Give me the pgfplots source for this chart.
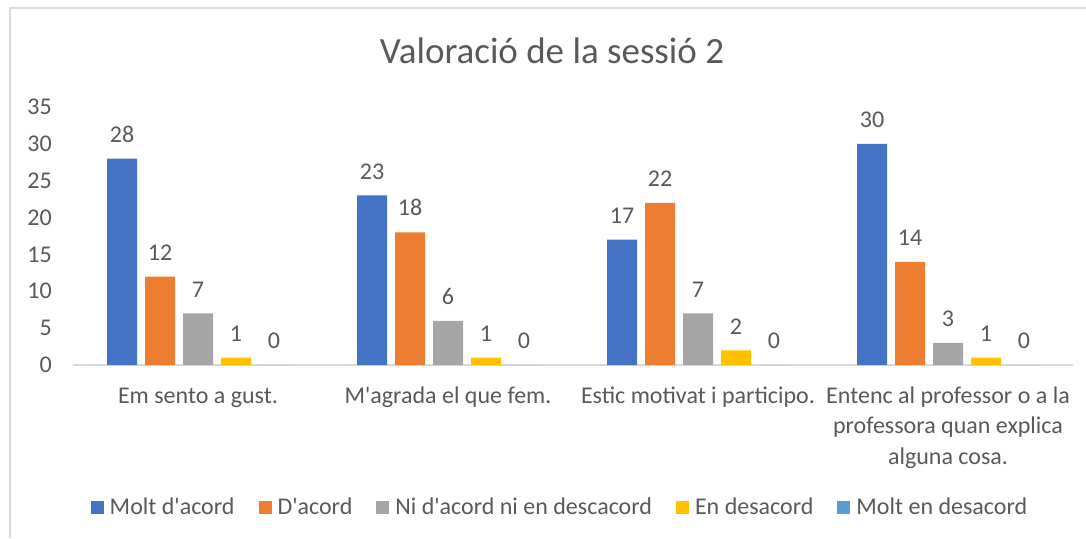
\documentclass[border=0pt]{standalone}
\usepackage{fontspec}
\setmainfont{Carlito}[Ligatures=TeXOff]
\usepackage{pgfplots}
\pgfplotsset{compat=1.18}
\definecolor{c1}{HTML}{4472C4}
\definecolor{c2}{HTML}{ED7D31}
\definecolor{c3}{HTML}{A5A5A5}
\definecolor{c4}{HTML}{FFC000}
\definecolor{c5}{HTML}{5B9BD5}
\definecolor{txt}{HTML}{595959}
\definecolor{gridc}{HTML}{D9D9D9}
\begin{document}
\begin{tikzpicture}[x=1pt,y=1pt]
\useasboundingbox (0,0) rectangle (1086,538);
\draw[gridc, line width=2pt] (10,0) -- (10,530) -- (1086,530);
\node[txt, font=\fontsize{37}{44}\selectfont] at (552,487) {Valoració de la sessió 2};
\begin{axis}[
  at={(73pt,173pt)}, anchor=south west, scale only axis,
  width=1000pt, height=258pt,
  ybar=8pt, bar width=30pt,
  xmin=-0.5, xmax=3.5, ymin=0, ymax=35,
  ytick={0,5,...,35},
  xtick={0,1,2,3},
  xticklabels={{\rule{0pt}{22pt}Em sento a gust.},{\rule{0pt}{22pt}M'agrada el que fem.},{\rule{0pt}{22pt}Estic motivat i participo.},{\rule{0pt}{22pt}Entenc al professor o a la\\professora quan explica\\alguna cosa.}},
  axis x line*=bottom, axis y line*=left,
  y axis line style={draw=none},
  x axis line style={gridc, line width=1.2pt, -},
  major tick length=0pt,
  tick label style={txt, font=\fontsize{24}{30}\selectfont},
  /pgf/number format/assume math mode=true,
  yticklabel style={inner sep=0pt, xshift=-21pt},
  xticklabel style={align=center, inner sep=0pt, anchor=north, yshift=-16pt, font=\fontsize{24}{30.5}\selectfont},
  nodes near coords,
  every node near coord/.append style={txt, font=\fontsize{24}{30}\selectfont, inner sep=0pt, yshift=16pt, /pgf/number format/assume math mode=true},
  legend style={at={(0.487,-0.55)}, anchor=center, draw=none, fill=none,
    legend columns=-1, font=\fontsize{24}{30}\selectfont, text=txt,
    /tikz/every odd column/.append style={column sep=4pt},
    /tikz/every even column/.append style={column sep=22pt}},
  legend image code/.code={\fill (0pt,-7pt) rectangle (13pt,6pt);},
]
\addplot[fill=c1, draw=none] coordinates {(0,28) (1,23) (2,17) (3,30)};
\addplot[fill=c2, draw=none] coordinates {(0,12) (1,18) (2,22) (3,14)};
\addplot[fill=c3, draw=none] coordinates {(0,7) (1,6) (2,7) (3,3)};
\addplot[fill=c4, draw=none] coordinates {(0,1) (1,1) (2,2) (3,1)};
\addplot[fill=c5, draw=none] coordinates {(0,0) (1,0) (2,0) (3,0)};
\legend{Molt d'acord, D'acord, Ni d'acord ni en descacord, En desacord, Molt en desacord}
\end{axis}
\end{tikzpicture}
\end{document}
